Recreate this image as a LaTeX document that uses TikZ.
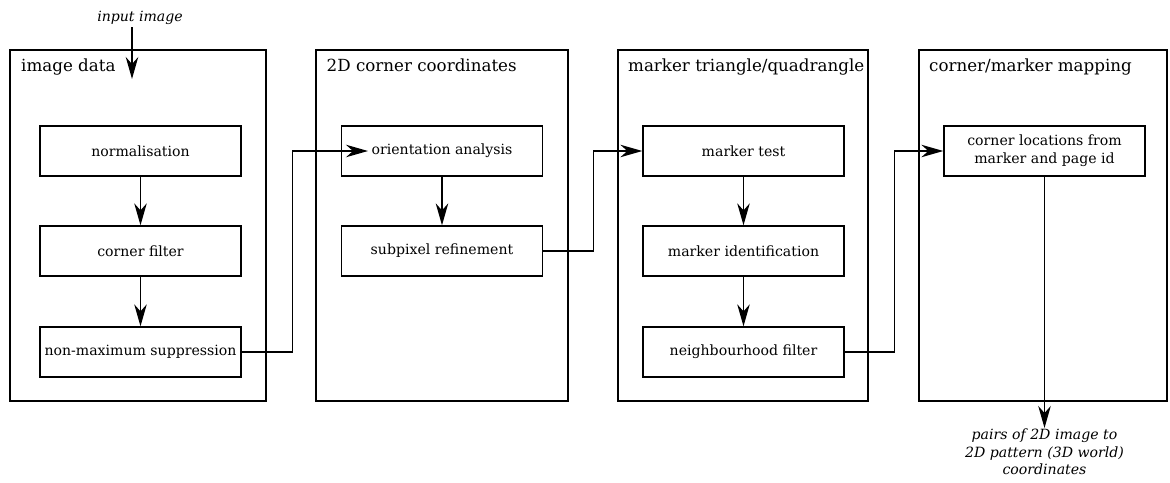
\documentclass[tikz,border=0pt]{standalone}
\usepackage{fontspec}
\setmainfont{DejaVu Serif}
\usetikzlibrary{arrows.meta,calc}
\tikzset{
  outer/.style={draw, line width=2.8pt, minimum height=351pt, inner sep=0pt},
  inner/.style={draw, line width=1.3pt, minimum width=201pt, minimum height=50pt, inner sep=0pt, font=\fontsize{14.1}{18}\selectfont, align=center},
  ttl/.style={anchor=base west, inner sep=0pt, font=\fontsize{16.7}{19}\selectfont},
  lbl/.style={inner sep=0pt, font=\fontsize{14.1}{17.5}\selectfont\itshape, align=center},
  arr/.style={line width=1.3pt, -{Stealth[length=22pt,width=12.5pt,inset=7pt]}},
  con/.style={line width=1.3pt}
}
\begin{document}
\begin{tikzpicture}[x=1pt,y=-1pt]
\useasboundingbox (0,0) rectangle (1170,482);
% outer boxes
\node[outer, minimum width=256pt] (b1) at (138,225.5) {};
\node[outer, minimum width=252pt] (b2) at (442,225.5) {};
\node[outer, minimum width=250pt] (b3) at (743,225.5) {};
\node[outer, minimum width=248pt] (b4) at (1043,225.5) {};
% titles
\node[ttl] (t1) at (21,71) {image data};
\node[ttl] (t2) at (326.5,71) {2D corner coordinates};
\node[ttl] (t3) at (628,71) {marker triangle/quadrangle};
\node[ttl] (t4) at (929,71) {corner/marker mapping};
% inner boxes
\node[inner] (norm) at (140.5,151) {normalisation};
\node[inner] (cf) at (140.5,251) {corner filter};
\node[inner] (nms) at (140.5,352) {non-maximum suppression};
\node[inner] (orient) at (442,151) {orientation analysis};
\node[inner] (sub) at (442,251) {subpixel refinement};
\node[inner] (mtest) at (743.5,151) {marker test};
\node[inner] (mid) at (743.5,251) {marker identification};
\node[inner] (nbh) at (743.5,352) {neighbourhood filter};
\node[inner] (cl) at (1044.5,151) {corner locations from\\marker and page id};
% labels
\node[lbl, anchor=base] (in) at (140,21) {input image};
\node[lbl, anchor=north] (out) at (1044.5,429) {pairs of 2D image to\\2D pattern (3D world)\\coordinates};
% coordinates
\coordinate (inS) at (132,27);
\coordinate (inE) at (132,79);
\coordinate (oin) at (368,151);
\coordinate (outE) at (1044.5,428);
% connectors
\draw[arr] (inS) -- (inE);
\draw[arr] (norm) -- (cf);
\draw[arr] (cf) -- (nms);
\draw[arr] (orient) -- (sub);
\draw[arr] (mtest) -- (mid);
\draw[arr] (mid) -- (nbh);
\draw[arr] (nms.east) -- ++(51,0) |- (oin);
\draw[arr] (sub.east) -- ++(50,0) |- (mtest.west);
\draw[arr] (nbh.east) -- ++(50,0) |- (cl.west);
\draw[arr] (cl.south) -- (outE);
\end{tikzpicture}
\end{document}
